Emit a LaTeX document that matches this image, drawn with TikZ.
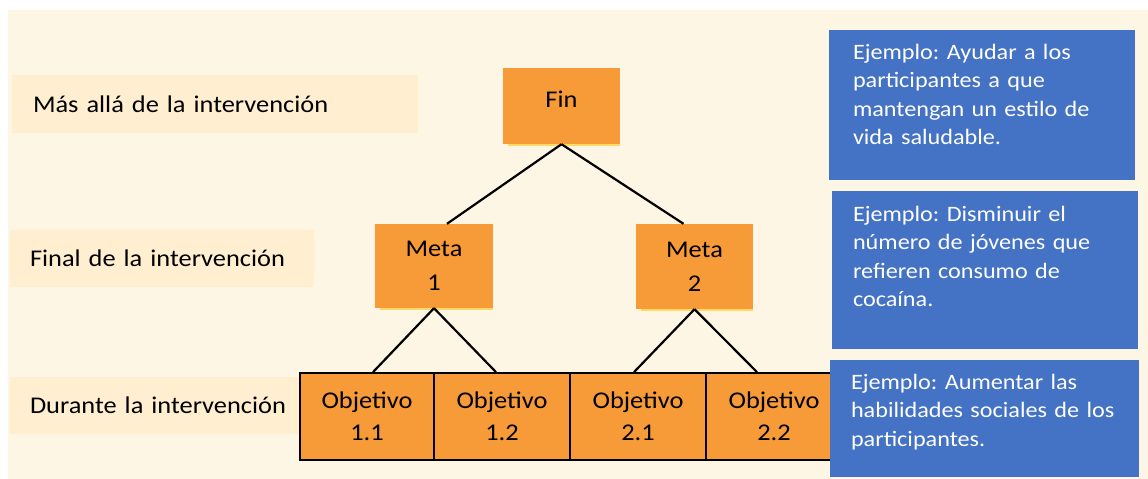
\documentclass[tikz,border=0pt]{standalone}
\usepackage{fontspec}
\setmainfont{Carlito}[FakeStretch=1.1]
\frenchspacing
\definecolor{bgcream}{HTML}{FEF6E4}
\definecolor{lblcream}{HTML}{FFEFD0}
\definecolor{orng}{HTML}{F79A38}
\definecolor{blu}{HTML}{4472C4}
\definecolor{shad}{HTML}{FFD966}
\begin{document}
\begin{tikzpicture}[x=1pt,y=-1pt,
  lblbox/.style={fill=lblcream, inner ysep=0pt, align=left, font=\fontsize{24}{29}\selectfont},
  obox/.style={fill=orng, inner sep=0pt, align=center, font=\fontsize{24}{34}\selectfont},
  objbox/.style={fill=orng, draw=black, line width=1.8pt, inner sep=0pt, align=center, minimum height=87pt, font=\fontsize{24}{32}\selectfont},
  bbox/.style={fill=blu, inner sep=0pt},
  btext/.style={text=white, inner sep=0pt, anchor=north west, align=left, text width=275pt, font=\fontsize{22}{28.5}\selectfont},
  conn/.style={draw=black, line width=2.2pt},
  shadline/.style={draw=shad, line width=1.6pt}]
\useasboundingbox (0,0) rectangle (1148,479);
\fill[bgcream] (8,10) rectangle (1148,479);

% level labels
\node[lblbox, minimum width=406pt, minimum height=58pt, inner xsep=21pt, text width=364pt] (l1) at (215,104) {Más allá de la intervención};
\node[lblbox, minimum width=304pt, minimum height=57pt, inner xsep=20pt, text width=264pt] (l2) at (162,258.5) {Final de la intervención};
\node[lblbox, minimum width=300pt, minimum height=57pt, inner xsep=20pt, text width=260pt] (l3) at (160,405.5) {Durante la intervención};

% tree boxes
\node[obox, minimum width=117pt, minimum height=76pt] (fin) at (561.5,106) {};
\node[font=\fontsize{24}{29}\selectfont, inner sep=0pt, anchor=base] (fintxt) at (561.5,107) {Fin};
\node[obox, minimum width=118pt, minimum height=84pt] (m1) at (434,266) {Meta\\1};
\node[obox, minimum width=117pt, minimum height=85pt] (m2) at (694.5,266.5) {Meta\\2};
\draw[shadline] ([xshift=5pt,yshift=-1pt]fin.south west) -- ([yshift=-1pt]fin.south east);
\draw[shadline] ([xshift=5pt,yshift=-1pt]m1.south west) -- ([yshift=-1pt]m1.south east);
\draw[shadline] ([xshift=5pt,yshift=-1pt]m2.south west) -- ([yshift=-1pt]m2.south east);

\node[objbox, minimum width=134pt] (o11) at (367,416.5) {Objetivo\\1.1};
\node[objbox, minimum width=136pt] (o12) at (502,416.5) {Objetivo\\1.2};
\node[objbox, minimum width=136pt] (o21) at (638,416.5) {Objetivo\\2.1};
\node[objbox, minimum width=136pt] (o22) at (774,416.5) {Objetivo\\2.2};

% connectors
\draw[conn] (fin.south) -- ([xshift=13pt]m1.north);
\draw[conn] (fin.south) -- ([xshift=-11pt]m2.north);
\draw[conn] (m1.south) -- ([xshift=6pt]o11.north);
\draw[conn] (m1.south) -- ([xshift=-6pt]o12.north);
\draw[conn] (m2.south) -- ([xshift=-4pt]o21.north);
\draw[conn] (m2.south) -- ([xshift=-17pt]o22.north);

% example boxes
\node[bbox, minimum width=306pt, minimum height=150pt] (b1) at (982,105) {};
\node[bbox, minimum width=306pt, minimum height=158pt] (b2) at (985,270) {};
\node[bbox, minimum width=309pt, minimum height=117pt] (b3) at (984.5,418.5) {};
\node[btext] (t1) at ([xshift=24pt,yshift=-14pt]b1.north west) {Ejemplo: Ayudar a los\\participantes a que\\mantengan un estilo de\\vida saludable.};
\node[btext] (t2) at ([xshift=21pt,yshift=-15pt]b2.north west) {Ejemplo: Disminuir el\\número de jóvenes que\\refieren consumo de\\cocaína.};
\node[btext] (t3) at ([xshift=21pt,yshift=-14pt]b3.north west) {Ejemplo: Aumentar las\\habilidades sociales de los\\participantes.};
\end{tikzpicture}
\end{document}
